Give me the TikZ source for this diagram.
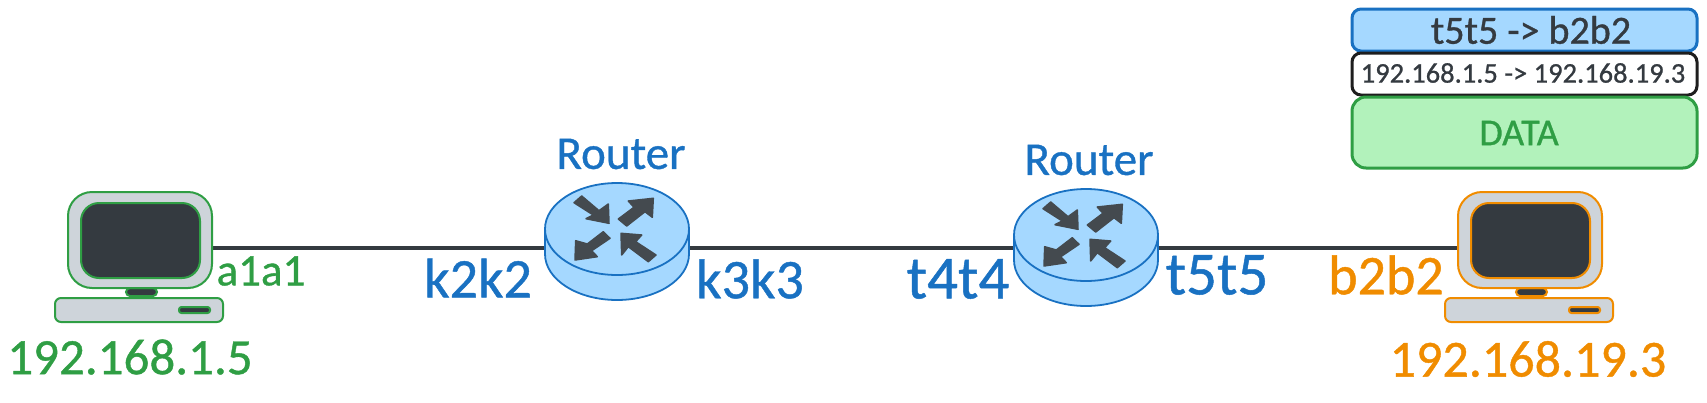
\documentclass[tikz,border=0pt]{standalone}
\usepackage{fontspec}
\setmainfont{Carlito}[FakeBold=0.8]
\usetikzlibrary{shapes.geometric}
\definecolor{cblue}{HTML}{1971C2}
\definecolor{lblue}{HTML}{A5D8FF}
\definecolor{cgreen}{HTML}{2F9E44}
\definecolor{lgreen}{HTML}{B2F2BB}
\definecolor{corange}{HTML}{F08C00}
\definecolor{cdark}{HTML}{343A40}
\definecolor{cgrey}{HTML}{CED4DA}
\definecolor{cblack}{HTML}{1E1E1E}
\tikzset{
  txt/.style={inner sep=0pt,font=\fontsize{#1}{#1}\selectfont},
  box/.style={rectangle,inner sep=0pt,line width=2pt,rounded corners=#1},
  link/.style={draw=cdark,line width=3.5pt},
  pkt/.style={rectangle,inner sep=0pt,line width=3pt,minimum width=345pt},
  rarrow/.style={fill=cdark!92!white,draw=cdark!92!white,line width=1.5pt,line join=round},
  rtop/.style={ellipse,inner sep=0pt,minimum width=144pt,minimum height=92pt,draw=cblue,fill=lblue,line width=1.8pt},
  rbody/.style={draw=cblue,fill=lblue,line width=1.8pt}
}
% monitor and base, #1 name, #2 x shift, #3 colour
\newcommand{\pcdraw}[3]{%
  \begin{scope}[xshift=#2pt]
    \node[box=4pt,draw=#3,fill=cdark,minimum width=31pt,minimum height=8pt] (#1neck) at (141.5,292) {};
    \node[box=24pt,draw=#3,fill=cgrey,minimum width=144pt,minimum height=96pt] (#1mon) at (140,240) {};
    \node[box=18pt,draw=#3,fill=cdark,minimum width=119pt,minimum height=75pt] (#1scr) at (140.5,240.5) {};
    \node[box=6pt,draw=#3,fill=cgrey,minimum width=168pt,minimum height=24pt] (#1base) at (139,310) {};
    \node[box=2.5pt,draw=#3,fill=cdark,minimum width=31pt,minimum height=6pt] (#1slot) at (194.5,310) {};
  \end{scope}}
% router, #1 name, #2 cx, #3 cy
\newcommand{\routerdraw}[3]{%
  \begin{scope}[shift={(#2pt,-#3pt)}]
    \draw[rbody] (-72,0) -- (-72,25) arc[start angle=180,end angle=0,x radius=72,y radius=46] -- (72,0) -- cycle;
    \node[rtop] (#1) at (0,0) {};
    \filldraw[rarrow] (-35.3,-33) -- (-18,-18.3) -- (-8.7,-25) -- (-8,-5.7) -- (-31,-10.3) -- (-23.7,-14) -- (-43,-26.3) -- cycle;
    \filldraw[rarrow] (1.3,-10) -- (17,-21.7) -- (11.3,-28) -- (36.3,-30.7) -- (35.3,-11.7) -- (28,-17.3) -- (9.7,-3) -- cycle;
    \filldraw[rarrow] (-13.7,2.7) -- (-29.7,15) -- (-41.3,11.7) -- (-42,31) -- (-19.7,27.7) -- (-25.3,21.7) -- (-7,9.3) -- cycle;
    \filldraw[rarrow] (4,4.3) -- (24.7,6) -- (18.7,12.7) -- (39,26) -- (31.3,32.7) -- (11.3,17.7) -- (4.7,26) -- cycle;
  \end{scope}}
\begin{document}
\begin{tikzpicture}[x=1pt,y=-1pt]
  \useasboundingbox (0,0) rectangle (1707,402);
  \coordinate (pc1port) at (210,248);
  \coordinate (r1w) at (617,248);
  \coordinate (r1e) at (617,248);
  \coordinate (r2w) at (1086,248);
  \coordinate (r2e) at (1086,248);
  \coordinate (pc2port) at (1460,248);
  \draw[link] (pc1port) -- (r1w);
  \draw[link] (r1e) -- (r2w);
  \draw[link] (r2e) -- (pc2port);
  \pcdraw{pcA}{0}{cgreen}
  \pcdraw{pcB}{1390}{corange}
  \routerdraw{routerA}{617}{229}
  \routerdraw{routerB}{1086}{235}
  \node[txt=45,text=cgreen] (la1) at (261,271) {a1a1};
  \node[txt=51,text=cgreen] (ip1) at (130,357) {192.168.1.5};
  \node[txt=56,text=cblue] (lk2) at (478,278) {k2k2};
  \node[txt=56,text=cblue] (lk3) at (750,279) {k3k3};
  \node[txt=47,text=cblue] (rt1) at (621,154) {Router};
  \node[txt=47,text=cblue] (rt2) at (1089,160) {Router};
  \node[txt=61,text=cblue] (lt4) at (958,279) {t4t4};
  \node[txt=61,text=cblue] (lt5) at (1217,275) {t5t5};
  \node[txt=56,text=corange] (lb2) at (1386,275) {b2b2};
  \node[txt=52,text=corange] (ip2) at (1528,359) {192.168.19.3};
  \node[pkt,draw=cblue,fill=lblue,rounded corners=9pt,minimum height=42pt] (eth) at (1524.5,30) {};
  \node[txt=40,text=cdark] (ethT) at (1531,30) {t5t5 -> b2b2};
  \node[pkt,draw=cblack,fill=white,rounded corners=9pt,minimum height=42pt] (iph) at (1524.5,74) {};
  \node[txt=28.5,text=cdark] (iphT) at (1523,73) {192.168.1.5 -> 192.168.19.3};
  \node[pkt,draw=cgreen,fill=lgreen,rounded corners=14pt,minimum height=71pt] (dat) at (1524.5,132.5) {};
  \node[txt=38,text=cgreen] (datT) at (1519,133) {DATA};
\end{tikzpicture}
\end{document}
